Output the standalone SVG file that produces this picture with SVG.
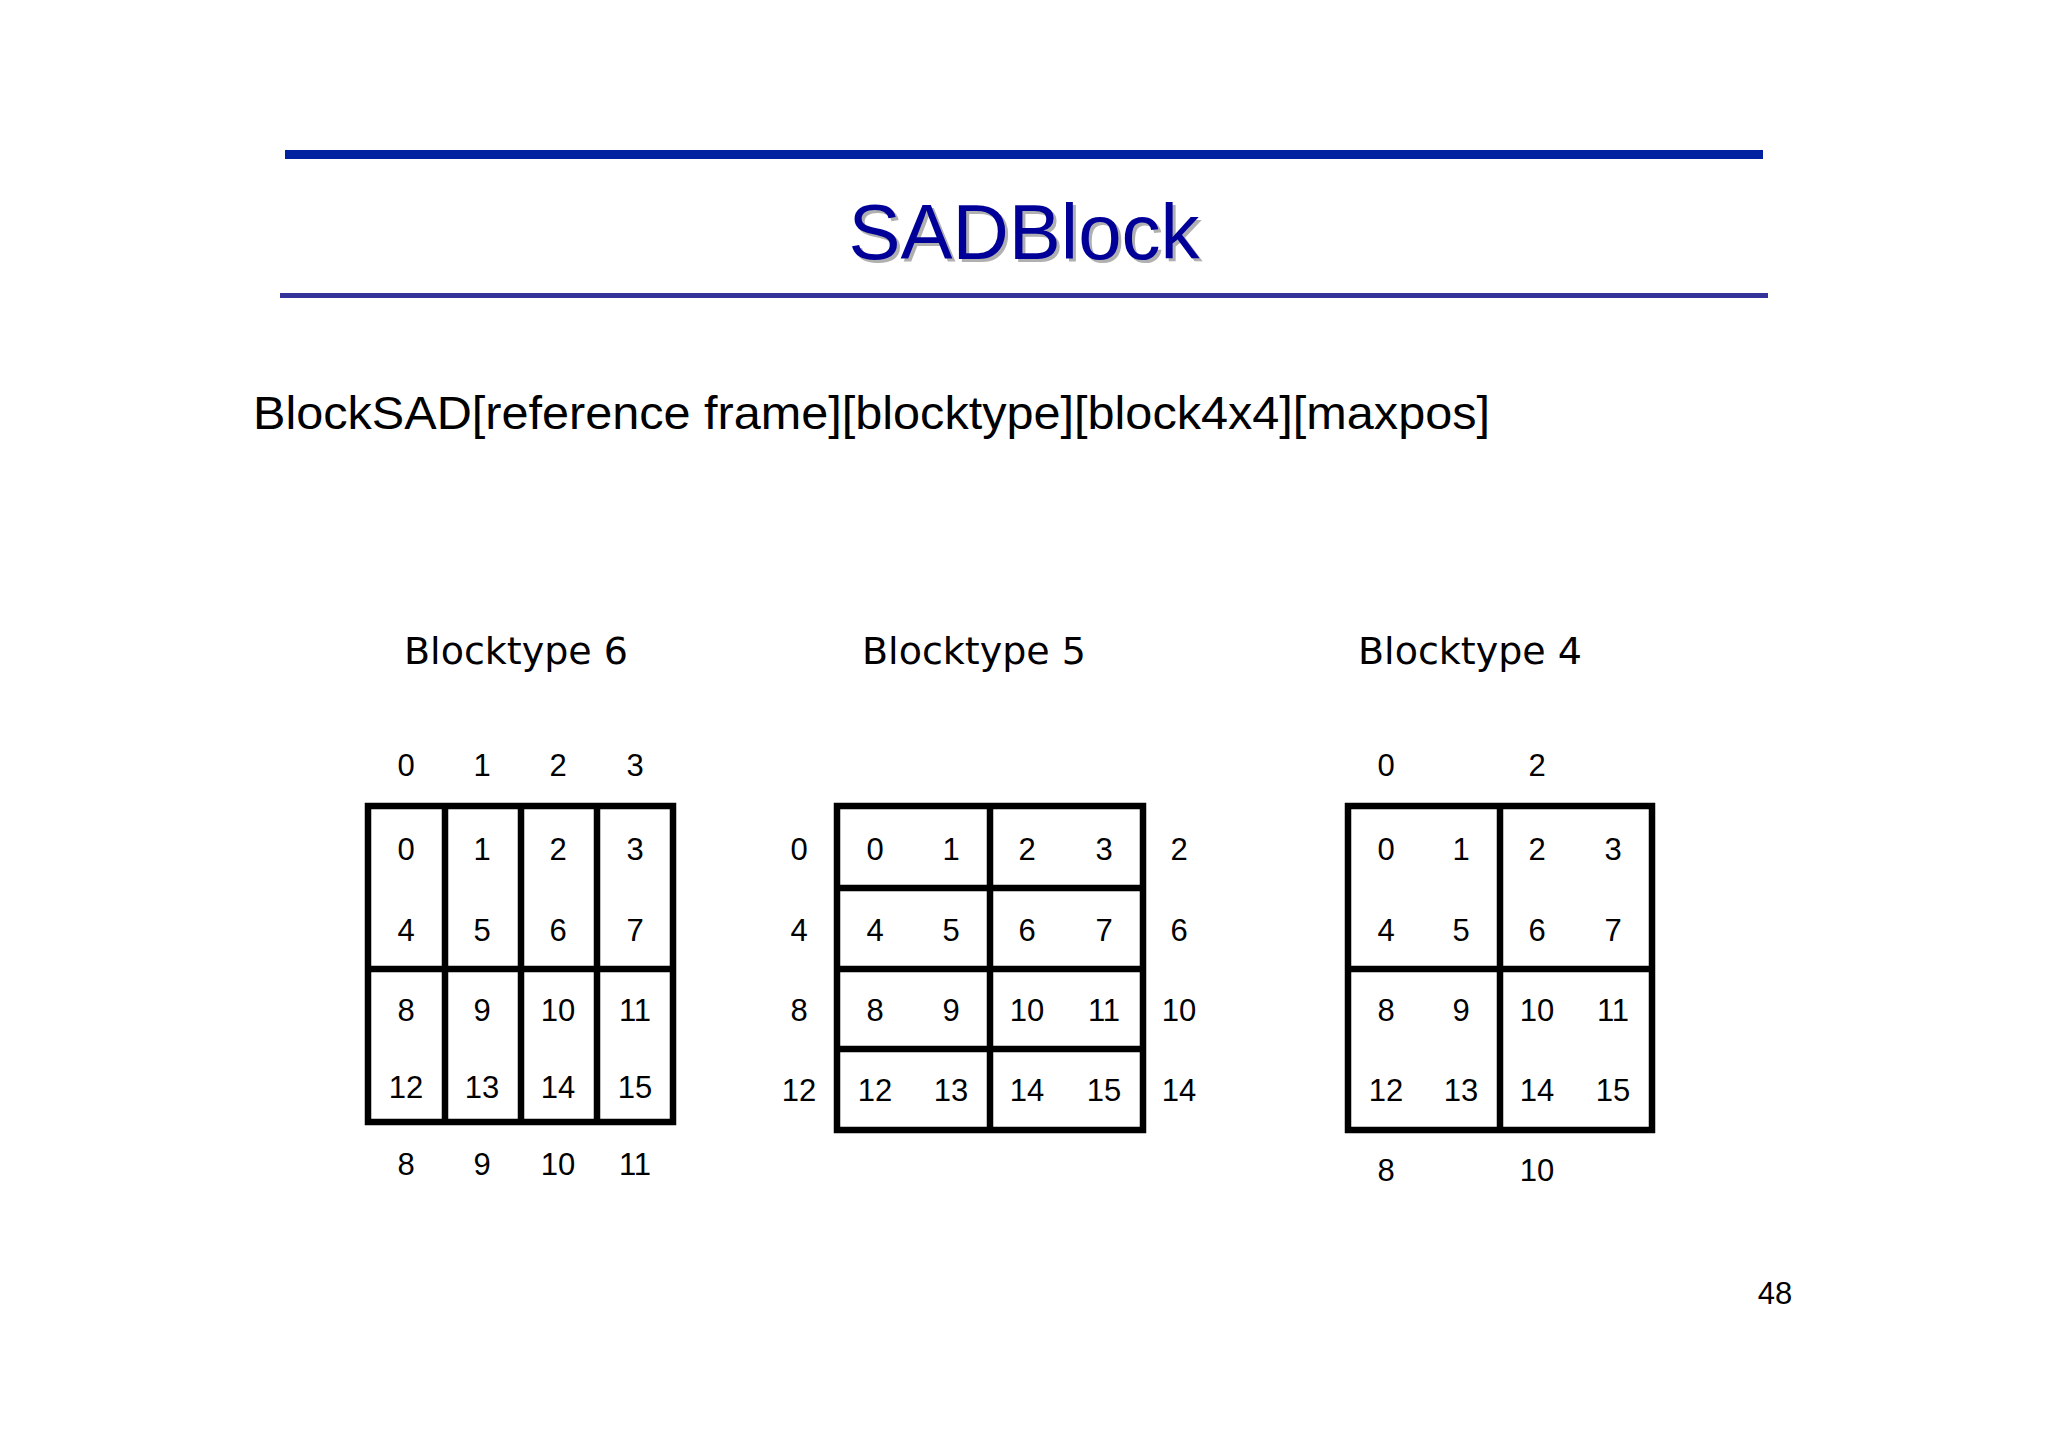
<svg xmlns="http://www.w3.org/2000/svg" width="2048" height="1447" viewBox="0 0 2048 1447">
<style>
.n{font-family:"Liberation Sans",Arial,sans-serif;font-size:31px;fill:#000;text-anchor:middle;dominant-baseline:central}
.bt{font-family:"DejaVu Sans",Verdana,sans-serif;font-size:38px;fill:#000}
.g{stroke:#000;stroke-width:6.5;fill:none;stroke-linecap:square}
</style>
<rect width="2048" height="1447" fill="#fff"/>
<g id="header">
<rect x="285" y="150" width="1478" height="9" fill="#0022a0"/>
<text x="1027" y="262" text-anchor="middle" font-family="Liberation Sans,Arial,sans-serif" font-size="78" fill="#b0b0b0">SADBlock</text>
<text x="1024" y="259" text-anchor="middle" font-family="Liberation Sans,Arial,sans-serif" font-size="78" fill="#000099">SADBlock</text>
<rect x="280" y="293" width="1488" height="5" fill="#333399"/>
</g>
<text id="formula" x="253" y="429" font-family="Liberation Sans,Arial,sans-serif" font-size="47" textLength="1237" lengthAdjust="spacingAndGlyphs">BlockSAD[reference frame][blocktype][block4x4][maxpos]</text>
<g id="bt6">
<text class="bt" x="404" y="664">Blocktype 6</text>
<path class="g" d="M368 806H673V1122H368Z M368 969H673 M445 806V1122 M521 806V1122 M597 806V1122"/>
<g class="n">
<text x="406" y="765">0</text><text x="482" y="765">1</text><text x="558" y="765">2</text><text x="635" y="765">3</text>
<text x="406" y="849">0</text><text x="482" y="849">1</text><text x="558" y="849">2</text><text x="635" y="849">3</text>
<text x="406" y="930">4</text><text x="482" y="930">5</text><text x="558" y="930">6</text><text x="635" y="930">7</text>
<text x="406" y="1010">8</text><text x="482" y="1010">9</text><text x="558" y="1010">10</text><text x="635" y="1010">11</text>
<text x="406" y="1087">12</text><text x="482" y="1087">13</text><text x="558" y="1087">14</text><text x="635" y="1087">15</text>
<text x="406" y="1164">8</text><text x="482" y="1164">9</text><text x="558" y="1164">10</text><text x="635" y="1164">11</text>
</g>
</g>
<g id="bt5">
<text class="bt" x="862" y="664">Blocktype 5</text>
<path class="g" d="M837 806H1143V1130H837Z M837 888H1143 M837 969H1143 M837 1049H1143 M990 806V1130"/>
<g class="n">
<text x="875" y="849">0</text><text x="951" y="849">1</text><text x="1027" y="849">2</text><text x="1104" y="849">3</text>
<text x="875" y="930">4</text><text x="951" y="930">5</text><text x="1027" y="930">6</text><text x="1104" y="930">7</text>
<text x="875" y="1010">8</text><text x="951" y="1010">9</text><text x="1027" y="1010">10</text><text x="1104" y="1010">11</text>
<text x="875" y="1090">12</text><text x="951" y="1090">13</text><text x="1027" y="1090">14</text><text x="1104" y="1090">15</text>
<text x="799" y="849">0</text><text x="799" y="930">4</text><text x="799" y="1010">8</text><text x="799" y="1090">12</text>
<text x="1179" y="849">2</text><text x="1179" y="930">6</text><text x="1179" y="1010">10</text><text x="1179" y="1090">14</text>
</g>
</g>
<g id="bt4">
<text class="bt" x="1358" y="664">Blocktype 4</text>
<path class="g" d="M1348 806H1652V1130H1348Z M1348 969H1652 M1500 806V1130"/>
<g class="n">
<text x="1386" y="765">0</text><text x="1537" y="765">2</text>
<text x="1386" y="849">0</text><text x="1461" y="849">1</text><text x="1537" y="849">2</text><text x="1613" y="849">3</text>
<text x="1386" y="930">4</text><text x="1461" y="930">5</text><text x="1537" y="930">6</text><text x="1613" y="930">7</text>
<text x="1386" y="1010">8</text><text x="1461" y="1010">9</text><text x="1537" y="1010">10</text><text x="1613" y="1010">11</text>
<text x="1386" y="1090">12</text><text x="1461" y="1090">13</text><text x="1537" y="1090">14</text><text x="1613" y="1090">15</text>
<text x="1386" y="1170">8</text><text x="1537" y="1170">10</text>
</g>
</g>
<text id="page" class="n" x="1775" y="1293">48</text>
</svg>
